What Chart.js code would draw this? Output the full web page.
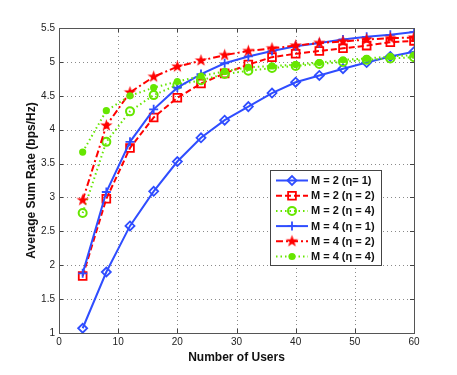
<!DOCTYPE html>
<html><head><meta charset="utf-8">
<script src="https://cdn.jsdelivr.net/npm/chart.js@4.4.1/dist/chart.umd.min.js"></script>
<style>html,body{margin:0;padding:0;background:#fff}canvas{display:block}</style></head>
<body><canvas id="c" width="457" height="375"></canvas>
<script>
const users = [4, 8, 12, 16, 20, 24, 28, 32, 36, 40, 44, 48, 52, 56, 60];
const m2eta1 = [1.07, 1.90, 2.58, 3.09, 3.53, 3.88, 4.14, 4.34, 4.54, 4.70, 4.80, 4.90, 4.99, 5.08, 5.15];
const m2eta2 = [1.84, 2.98, 3.73, 4.18, 4.47, 4.68, 4.83, 4.96, 5.07, 5.12, 5.16, 5.20, 5.24, 5.29, 5.31];
const m2eta4 = [2.77, 3.82, 4.27, 4.51, 4.66, 4.73, 4.82, 4.87, 4.91, 4.94, 4.97, 5.00, 5.03, 5.05, 5.07];
const m4eta1 = [1.88, 3.08, 3.82, 4.30, 4.62, 4.82, 4.98, 5.08, 5.16, 5.23, 5.28, 5.33, 5.37, 5.40, 5.44];
const m4eta2 = [2.96, 4.06, 4.55, 4.78, 4.93, 5.02, 5.10, 5.16, 5.20, 5.24, 5.28, 5.30, 5.33, 5.35, 5.36];
const m4eta4 = [3.67, 4.28, 4.50, 4.62, 4.71, 4.79, 4.86, 4.92, 4.94, 4.96, 4.99, 5.03, 5.05, 5.08, 5.10];
const seriesLabels = ['M = 2 (\u03b7= 1)', 'M = 2 (\u03b7 = 2)', 'M = 2 (\u03b7 = 4)', 'M = 4 (\u03b7 = 1)', 'M = 4 (\u03b7 = 2)', 'M = 4 (\u03b7 = 4)'];
const xTickValues = [0, 10, 20, 30, 40, 50, 60];
const yTickValues = [1, 1.5, 2, 2.5, 3, 3.5, 4, 4.5, 5, 5.5];
const xTitle = 'Number of Users';
const yTitle = 'Average Sum Rate (bps/Hz)';

const BLUE = '#2f4dff', RED = '#ff0000', GREEN = '#66e600';
const FONT = '"Liberation Sans", Arial, Helvetica, sans-serif';

function makeStar(r, color) {
  const s = Math.ceil(r * 2 + 2);
  const c = document.createElement('canvas');
  c.width = s; c.height = s;
  const g = c.getContext('2d');
  g.fillStyle = color;
  g.beginPath();
  for (let i = 0; i < 10; i++) {
    const rad = i % 2 ? r * 0.4 : r;
    const a = -Math.PI / 2 + i * Math.PI / 5;
    g.lineTo(s / 2 + rad * Math.cos(a), s / 2 + rad * Math.sin(a));
  }
  g.closePath(); g.fill();
  return c;
}
const starImg = makeStar(6.5, RED);

function pts(vals) { return users.map((u, i) => ({x: u, y: vals[i]})); }

const styles = [
  {data: m2eta1, color: BLUE, dash: [], pointStyle: 'rectRot', radius: 4.5, fill: 'rgba(0,0,0,0)', bw: 1.8},
  {data: m2eta2, color: RED, dash: [6, 3], pointStyle: 'rect', radius: 5.5, fill: 'rgba(0,0,0,0)', bw: 1.8},
  {data: m2eta4, color: GREEN, dash: [1.5, 3], pointStyle: 'circle', radius: 4, fill: 'rgba(0,0,0,0)', bw: 2},
  {data: m4eta1, color: BLUE, dash: [], pointStyle: 'cross', radius: 4.5, fill: BLUE, bw: 1.8},
  {data: m4eta2, color: RED, dash: [7, 3, 2, 3], pointStyle: starImg, radius: 6, fill: RED, bw: 0},
  {data: m4eta4, color: GREEN, dash: [1.5, 3], pointStyle: 'circle', radius: 3.6, fill: GREEN, bw: 0},
];

const datasets = styles.map((s, i) => ({
  label: seriesLabels[i],
  data: pts(s.data),
  borderColor: s.color,
  borderWidth: 2,
  borderDash: s.dash,
  pointStyle: s.pointStyle,
  pointRadius: s.radius,
  pointBackgroundColor: s.fill,
  pointBorderColor: s.color,
  pointBorderWidth: s.bw,
  tension: 0,
  fill: false,
  order: 6 - i,
}));

const gridPlugin = {
  id: 'dotgrid',
  beforeDatasetsDraw(chart) {
    const {ctx, chartArea: a, scales: {x, y}} = chart;
    ctx.save();
    ctx.strokeStyle = '#8a8a8a';
    ctx.lineWidth = 1;
    ctx.setLineDash([1, 3]);
    ctx.beginPath();
    xTickValues.forEach(v => {
      const px = Math.round(x.getPixelForValue(v)) + 0.5;
      ctx.moveTo(px, a.top); ctx.lineTo(px, a.bottom);
    });
    yTickValues.forEach(v => {
      const py = Math.round(y.getPixelForValue(v)) + 0.5;
      ctx.moveTo(a.left, py); ctx.lineTo(a.right, py);
    });
    ctx.stroke();
    ctx.restore();
  }
};

const framePlugin = {
  id: 'frame',
  afterDraw(chart) {
    const {ctx, chartArea: a, scales: {x, y}} = chart;
    ctx.save();
    ctx.strokeStyle = '#444';
    ctx.lineWidth = 1;
    ctx.setLineDash([]);
    ctx.beginPath();
    xTickValues.forEach(v => {
      const px = Math.round(x.getPixelForValue(v)) + 0.5;
      ctx.moveTo(px, a.bottom); ctx.lineTo(px, a.bottom - 4);
      ctx.moveTo(px, a.top); ctx.lineTo(px, a.top + 4);
    });
    yTickValues.forEach(v => {
      const py = Math.round(y.getPixelForValue(v)) + 0.5;
      ctx.moveTo(a.left, py); ctx.lineTo(a.left + 4, py);
      ctx.moveTo(a.right, py); ctx.lineTo(a.right - 4, py);
    });
    ctx.stroke();
    ctx.strokeStyle = '#555';
    ctx.strokeRect(Math.round(a.left) + 0.5, Math.round(a.top) + 0.5, Math.round(a.right - a.left), Math.round(a.bottom - a.top));

    // legend
    const lx = 270.5, ly = 170.5, lw = 111, lh = 95;
    ctx.fillStyle = '#fff';
    ctx.fillRect(lx, ly, lw, lh);
    ctx.strokeStyle = '#444';
    ctx.lineWidth = 1;
    ctx.strokeRect(lx, ly, lw, lh);
    styles.forEach((s, i) => {
      const cy = 180.5 + i * 15.2;
      ctx.strokeStyle = s.color;
      ctx.lineWidth = 2;
      ctx.setLineDash(s.dash);
      ctx.beginPath(); ctx.moveTo(276, cy); ctx.lineTo(308, cy); ctx.stroke();
      ctx.setLineDash([]);
      ctx.fillStyle = s.fill;
      ctx.strokeStyle = s.color;
      ctx.lineWidth = s.bw;
      Chart.helpers.drawPoint(ctx, {pointStyle: s.pointStyle, rotation: 0, radius: s.radius, borderWidth: s.bw}, 292, cy);
      ctx.fillStyle = '#111';
      ctx.font = 'bold 11px ' + FONT;
      ctx.textBaseline = 'middle';
      ctx.textAlign = 'left';
      ctx.fillText(seriesLabels[i], 311, cy + 0.5);
    });
    ctx.restore();
  }
};

new Chart(document.getElementById('c'), {
  type: 'line',
  data: {datasets},
  plugins: [gridPlugin, framePlugin],
  options: {
    responsive: false,
    animation: false,
    events: [],
    layout: {padding: {left: 0, top: 28, right: 43, bottom: 0}},
    plugins: {legend: {display: false}, tooltip: {enabled: false}, title: {display: false}},
    scales: {
      x: {
        type: 'linear', min: 0, max: 60,
        afterBuildTicks(scale) { scale.ticks = xTickValues.map(v => ({value: v})); },
        afterFit(scale) { scale.height = 42; },
        ticks: {color: '#222', font: {family: FONT, size: 10}, padding: 3, maxRotation: 0, callback: v => String(v)},
        grid: {display: false, drawTicks: false},
        border: {display: false},
        title: {display: true, text: xTitle, color: '#111', font: {family: FONT, size: 12, weight: 'bold'}, padding: {top: 0, bottom: 10}},
      },
      y: {
        type: 'linear', min: 1, max: 5.5,
        afterBuildTicks(scale) { scale.ticks = yTickValues.map(v => ({value: v})); },
        afterFit(scale) { scale.width = 59; },
        ticks: {color: '#222', font: {family: FONT, size: 10}, padding: 4, callback: v => String(v)},
        grid: {display: false, drawTicks: false},
        border: {display: false},
        title: {display: true, text: yTitle, color: '#111', font: {family: FONT, size: 12, weight: 'bold'}, padding: {top: 24, bottom: 0}},
      }
    }
  }
});
</script>
</body></html>
